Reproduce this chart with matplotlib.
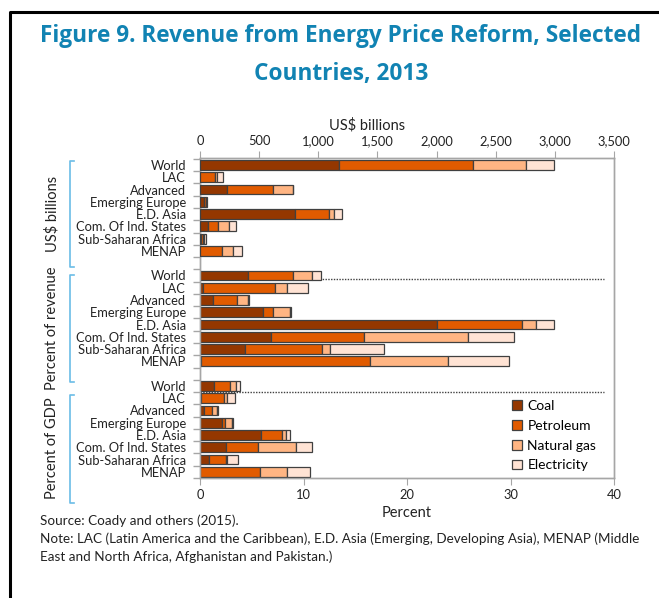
import matplotlib
matplotlib.use("Agg")
import matplotlib.pyplot as plt
import matplotlib.transforms as mtransforms
from matplotlib.lines import Line2D
import numpy as np

plt.rcParams['font.family'] = ['Lato', 'DejaVu Sans']

regions = ["World", "LAC", "Advanced", "Emerging Europe", "E.D. Asia",
           "Com. Of Ind. States", "Sub-Saharan Africa", "MENAP"]
sources = ["Coal", "Petroleum", "Natural gas", "Electricity"]
colors = ["#943700", "#E15B00", "#FFB583", "#FFE3D4"]

# US$ billions
usd_coal = [1178, 3, 225, 37, 803, 65, 5, 0]
usd_petroleum = [1132, 124, 395, 11, 285, 84, 20, 189]
usd_gas = [446, 19, 163, 5, 48, 99, 12, 93]
usd_electricity = [239, 51, 6, 3, 67, 53, 14, 76]

# percent of revenue
rev_coal = [4.6, 0.3, 1.3, 6.1, 22.9, 6.9, 4.3, 0.1]
rev_petroleum = [4.4, 6.9, 2.3, 1.0, 8.2, 8.9, 7.5, 16.3]
rev_gas = [1.8, 1.2, 1.0, 1.55, 1.35, 10.05, 0.75, 7.6]
rev_electricity = [0.9, 2.0, 0.1, 0.1, 1.8, 4.45, 5.2, 5.9]

# percent of GDP
gdp_coal = [1.4, 0.05, 0.4, 2.15, 5.9, 2.5, 0.9, 0.0]
gdp_petroleum = [1.5, 2.3, 0.8, 0.3, 2.0, 3.15, 1.65, 5.75]
gdp_gas = [0.55, 0.3, 0.4, 0.65, 0.4, 3.6, 0.05, 2.7]
gdp_electricity = [0.4, 0.75, 0.1, 0.1, 0.4, 1.6, 1.1, 2.2]

usd_ticks = [0, 500, 1000, 1500, 2000, 2500, 3000, 3500]
pct_ticks = [0, 10, 20, 30, 40]

title_color = "#1183B3"
bracket_color = "#6BBCE6"
spine_color = "#A6A6A6"
edge = "#404040"
txt = "#222222"

fig = plt.figure(figsize=(6.59, 5.98), dpi=100)
ax = fig.add_axes([200 / 659, 1 - 478 / 598, 414 / 659, 320 / 598])
ax2 = ax.twiny()

n = len(regions)
pos_usd = np.arange(n)
pos_rev = np.arange(n) + n + 1
pos_gdp = np.arange(n) + 2 * (n + 1)
h = 0.8


def stack(axis, pos, series):
    left = np.zeros(len(pos))
    for vals, c, lab in zip(series, colors, sources):
        vals = np.array(vals, dtype=float)
        axis.barh(pos, vals, left=left, height=h, color=c, edgecolor=edge,
                  linewidth=0.9, label=lab, zorder=3)
        left += vals


stack(ax2, pos_usd, [usd_coal, usd_petroleum, usd_gas, usd_electricity])
stack(ax, pos_rev, [rev_coal, rev_petroleum, rev_gas, rev_electricity])
stack(ax, pos_gdp, [gdp_coal, gdp_petroleum, gdp_gas, gdp_electricity])

# dotted separators at the World rows
for y in [pos_rev[0] + 0.25, pos_gdp[0] + 0.5]:
    ax.plot([0, 39], [y, y], color="#404040", lw=1.0, ls=(0, (1, 1)), zorder=2)

ax.set_xlim(0, 40)
ax2.set_xlim(0, 3500)
ax.set_ylim(pos_gdp[-1] + 0.5, -0.57)

all_pos = np.concatenate([pos_usd, pos_rev, pos_gdp])
ax.set_yticks(all_pos)
ax.set_yticklabels(regions * 3, fontsize=9.3, color=txt)
ax.set_yticks(np.arange(-0.5, pos_gdp[-1] + 1, 1), minor=True)
ax.tick_params(axis='y', which='major', length=0, pad=10)
ax.tick_params(axis='y', which='minor', length=5, color=spine_color, width=1)

ax.set_xticks(pct_ticks)
ax.tick_params(axis='x', length=5, color=spine_color, labelsize=9.3,
               labelcolor=txt, pad=3)
ax2.set_xticks(usd_ticks)
ax2.set_xticklabels([f"{v:,}" for v in usd_ticks])
ax2.tick_params(axis='x', length=5, color=spine_color, labelsize=9.3,
                labelcolor=txt, pad=3)

for a in (ax, ax2):
    for s in a.spines.values():
        s.set_color(spine_color)
        s.set_linewidth(1)

fig.text(367 / 659, 1 - 125 / 598, "US$ billions", ha='center', va='center',
         fontsize=10.5, color=txt)
fig.text(407 / 659, 1 - 513 / 598, "Percent", ha='center', va='center',
         fontsize=10.5, color=txt)

# group brackets and labels
tr = mtransforms.blended_transform_factory(fig.transFigure, ax.transData)
bx = 70 / 659
tick = 4 / 659
groups = [("US$ billions", -0.3, 8.3), ("Percent of revenue", 8.95, 17.7),
          ("Percent of GDP", 18.7, 27.5)]
for lab, y0, y1 in groups:
    ax.add_line(Line2D([bx + tick, bx, bx, bx + tick], [y0, y0, y1, y1],
                       color=bracket_color, lw=1.2, transform=tr, clip_on=False))
    ax.text(52 / 659, (y0 + y1) / 2, lab, rotation=90, ha='center', va='center',
            fontsize=10.5, color=txt, transform=tr, clip_on=False)

handles, labels = ax.get_legend_handles_labels()
leg = ax.legend(handles[:4], labels[:4], loc='upper left',
                bbox_to_anchor=(512 / 659, 1 - 400 / 598),
                bbox_transform=fig.transFigure, frameon=False, fontsize=10,
                handlelength=0.7, handleheight=0.7, handletextpad=0.4,
                labelspacing=0.56, borderaxespad=0, borderpad=0)

fig.text(341 / 659, 1 - 36 / 598, "Figure 9. Revenue from Energy Price Reform, Selected",
         ha='center', va='center', fontsize=16.3, fontweight='bold',
         color=title_color, family=['Open Sans', 'DejaVu Sans'])
fig.text(341 / 659, 1 - 74 / 598, "Countries, 2013",
         ha='center', va='center', fontsize=16.3, fontweight='bold',
         color=title_color, family=['Open Sans', 'DejaVu Sans'])

fig.text(40 / 659, 1 - 521 / 598, "Source: Coady and others (2015).",
         ha='left', va='center', fontsize=9.7, color=txt)
fig.text(40 / 659, 1 - 539 / 598,
         "Note: LAC (Latin America and the Caribbean), E.D. Asia (Emerging, Developing Asia), MENAP (Middle",
         ha='left', va='center', fontsize=9.7, color=txt)
fig.text(40 / 659, 1 - 557 / 598, "East and North Africa, Afghanistan and Pakistan.)",
         ha='left', va='center', fontsize=9.7, color=txt)

# outer frame (left and top edges)
fig.add_artist(Line2D([10 / 659, 10 / 659, 1], [0, 1 - 12 / 598, 1 - 12 / 598],
                      color="black", lw=2.2, transform=fig.transFigure))

fig.savefig("out.png", dpi=100)
